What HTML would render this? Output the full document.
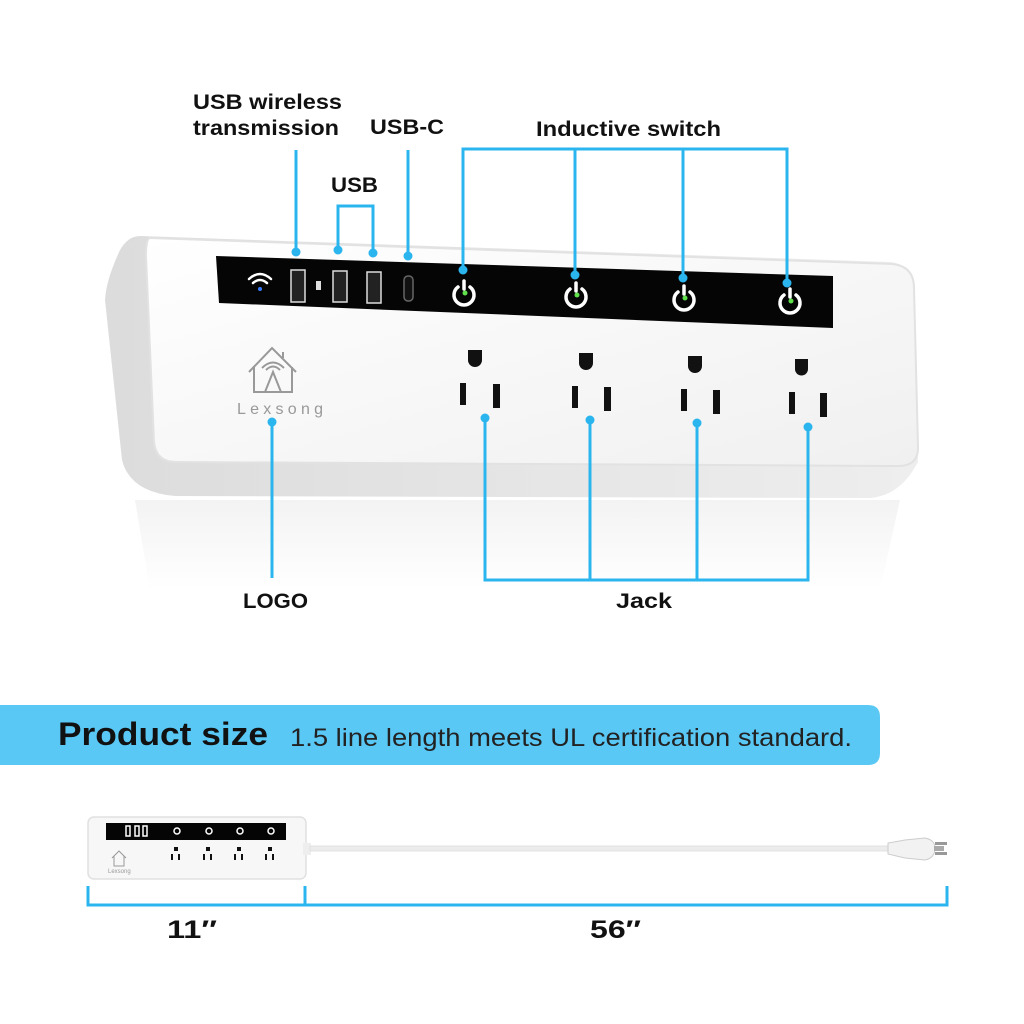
<!DOCTYPE html>
<html><head><meta charset="utf-8"><style>
html,body{margin:0;padding:0;background:#fff;}
svg{display:block}
text{font-family:"Liberation Sans",sans-serif;}
</style></head><body>
<svg width="1024" height="1024" viewBox="0 0 1024 1024" xmlns="http://www.w3.org/2000/svg">
<defs>
<linearGradient id="side" x1="0" y1="0" x2="1" y2="0"><stop offset="0" stop-color="#dcdcdc"/><stop offset="1" stop-color="#eeeeee"/></linearGradient>
<linearGradient id="front" x1="0" y1="0" x2="1" y2="1"><stop offset="0" stop-color="#ffffff"/><stop offset="1" stop-color="#f0f0f0"/></linearGradient>
<linearGradient id="refl" x1="0" y1="0" x2="0" y2="1"><stop offset="0" stop-color="#f3f3f3"/><stop offset="1" stop-color="#ffffff"/></linearGradient>
</defs>
<polygon points="135,500 900,500 880,590 150,590" fill="url(#refl)"/>
<path d="M140,236 L890,262 Q912,264 914,290 L918,462 Q900,496 870,498 L175,496 Q130,492 122,460 L105,300 Q106,280 120,250 Q128,236 140,236 Z" fill="url(#side)"/>
<path d="M150,238 L892,264 Q914,266 914,288 L918,448 Q918,466 898,466 L176,462 Q156,462 154,442 L146,256 Q146,238 150,238 Z" fill="url(#front)" stroke="#e2e2e2" stroke-width="2"/>
<polygon points="216,256 833,276 833,328 219,303" fill="#050505"/>
<g fill="none" stroke="#fff" stroke-width="2.5" stroke-linecap="round">
<path d="M249,279 Q260,269 271,279"/><path d="M253,283 Q260,277 267,283"/></g>
<circle cx="260" cy="289" r="2" fill="#3b7cff"/>
<rect x="291" y="270" width="14" height="32" fill="#222" stroke="#ddd" stroke-width="1.5"/>
<rect x="316" y="281" width="5" height="9" fill="#ddd"/>
<rect x="333" y="271" width="14" height="31" fill="#222" stroke="#ddd" stroke-width="1.5"/>
<rect x="367" y="272" width="14" height="31" fill="#222" stroke="#ddd" stroke-width="1.5"/>
<rect x="404" y="276" width="9" height="25" rx="4" fill="#111" stroke="#666" stroke-width="1.5"/>
<g fill="none" stroke="#fff" stroke-width="3.5" stroke-linecap="round">
<path d="M458,287 A10,10 0 1 0 470,287"/><line x1="464" y1="281" x2="464" y2="289"/>
<path d="M570,289 A10,10 0 1 0 582,289"/><line x1="576" y1="283" x2="576" y2="291"/>
<path d="M678,292 A10,10 0 1 0 690,292"/><line x1="684" y1="286" x2="684" y2="294"/>
<path d="M784,295 A10,10 0 1 0 796,295"/><line x1="790" y1="289" x2="790" y2="297"/>
</g>
<g fill="#5fe04a"><circle cx="465" cy="293" r="2.5"/><circle cx="577" cy="295" r="2.5"/><circle cx="685" cy="298" r="2.5"/><circle cx="791" cy="301" r="2.5"/></g>
<g fill="#111">
<path d="M468,350 h14 v10 a7,7 0 0 1 -14,0 z"/>
<rect x="460" y="383" width="6" height="22"/><rect x="493" y="384" width="7" height="24"/>
<path d="M579,353 h14 v10 a7,7 0 0 1 -14,0 z"/>
<rect x="572" y="386" width="6" height="22"/><rect x="604" y="387" width="7" height="24"/>
<path d="M688,356 h14 v10 a7,7 0 0 1 -14,0 z"/>
<rect x="681" y="389" width="6" height="22"/><rect x="713" y="390" width="7" height="24"/>
<path d="M795,359 h13 v10 a6.5,6.5 0 0 1 -13,0 z"/>
<rect x="789" y="392" width="6" height="22"/><rect x="820" y="393" width="7" height="24"/>
</g>
<g fill="none" stroke="#999" stroke-width="2">
<path d="M249,372 L272,348 L296,372 M254,367 V392 H292 V367 M283,352 V358"/>
<path d="M265,392 L273,372 L281,392"/>
<path d="M266,370 Q273,363 280,370 M262,368 Q273,357 284,368"/>
</g>
<text x="237" y="414" font-size="16" fill="#999" textLength="86">Lexsong</text>
<g stroke="#2bb5ee" stroke-width="3" fill="none">
<line x1="296" y1="150" x2="296" y2="250"/>
<polyline points="338,250 338,206 373,206 373,253"/>
<line x1="408" y1="150" x2="408" y2="255"/>
<polyline points="463,270 463,149 787,149 787,283"/>
<line x1="575" y1="149" x2="575" y2="275"/>
<line x1="683" y1="149" x2="683" y2="278"/>
<line x1="272" y1="422" x2="272" y2="578"/>
<polyline points="485,418 485,580 808,580 808,427"/>
<line x1="590" y1="420" x2="590" y2="580"/>
<line x1="697" y1="423" x2="697" y2="580"/>
</g>
<g fill="#2bb5ee">
<circle cx="296" cy="252" r="4.5"/><circle cx="338" cy="250" r="4.5"/><circle cx="373" cy="253" r="4.5"/><circle cx="408" cy="256" r="4.5"/>
<circle cx="463" cy="270" r="4.5"/><circle cx="575" cy="275" r="4.5"/><circle cx="683" cy="278" r="4.5"/><circle cx="787" cy="283" r="4.5"/>
<circle cx="272" cy="422" r="4.5"/><circle cx="485" cy="418" r="4.5"/><circle cx="590" cy="420" r="4.5"/><circle cx="697" cy="423" r="4.5"/><circle cx="808" cy="427" r="4.5"/>
</g>
<g font-weight="bold" font-size="21" fill="#111" lengthAdjust="spacingAndGlyphs">
<text x="193" y="109" textLength="149" lengthAdjust="spacingAndGlyphs">USB wireless</text>
<text x="193" y="135" textLength="146" lengthAdjust="spacingAndGlyphs">transmission</text>
<text x="370" y="134" textLength="74" lengthAdjust="spacingAndGlyphs">USB-C</text>
<text x="331" y="192" textLength="47" lengthAdjust="spacingAndGlyphs">USB</text>
<text x="536" y="136" textLength="185" lengthAdjust="spacingAndGlyphs">Inductive switch</text>
<text x="243" y="608" textLength="65" lengthAdjust="spacingAndGlyphs">LOGO</text>
<text x="616" y="608" textLength="56" lengthAdjust="spacingAndGlyphs">Jack</text>
</g>
<path d="M0,705 H868 Q880,705 880,717 V753 Q880,765 868,765 H0 Z" fill="#5ac8f5"/>
<text x="58" y="745" font-size="32" font-weight="bold" fill="#111" textLength="210" lengthAdjust="spacingAndGlyphs">Product size</text>
<text x="290" y="746" font-size="25" fill="#222" textLength="562" lengthAdjust="spacingAndGlyphs">1.5 line length meets UL certification standard.</text>
<rect x="88" y="817" width="218" height="62" rx="6" fill="#f7f7f7" stroke="#e0e0e0" stroke-width="1.5"/>
<rect x="106" y="823" width="180" height="17" fill="#050505"/>
<g fill="none" stroke="#fff" stroke-width="1.5"><circle cx="177" cy="831" r="3"/><circle cx="209" cy="831" r="3"/><circle cx="240" cy="831" r="3"/><circle cx="271" cy="831" r="3"/>
<rect x="126" y="826" width="4" height="10"/><rect x="135" y="826" width="4" height="10"/><rect x="143" y="826" width="4" height="10"/></g>
<g fill="#111">
<rect x="174" y="847" width="4" height="4"/><rect x="171" y="854" width="2" height="6"/><rect x="178" y="854" width="2" height="6"/>
<rect x="206" y="847" width="4" height="4"/><rect x="203" y="854" width="2" height="6"/><rect x="210" y="854" width="2" height="6"/>
<rect x="237" y="847" width="4" height="4"/><rect x="234" y="854" width="2" height="6"/><rect x="241" y="854" width="2" height="6"/>
<rect x="268" y="847" width="4" height="4"/><rect x="265" y="854" width="2" height="6"/><rect x="272" y="854" width="2" height="6"/>
</g>
<path d="M112,858 L119,851 L126,858 M114,856 V866 H124 V856" fill="none" stroke="#999" stroke-width="1"/>
<text x="108" y="873" font-size="6" fill="#999">Lexsong</text>
<rect x="303" y="843" width="8" height="12" fill="#eee"/>
<rect x="310" y="846" width="585" height="5" fill="#ececec" stroke="#ddd" stroke-width="0.8"/>
<path d="M888,843 L905,840 L925,838 Q935,840 935,848 Q935,858 925,860 L905,858 L888,854 Z" fill="#f2f2f2" stroke="#ccc" stroke-width="1"/>
<rect x="935" y="842" width="12" height="3" fill="#999"/><rect x="935" y="852" width="12" height="3" fill="#999"/><rect x="934" y="846" width="10" height="5" fill="#aaa"/>
<g stroke="#2bb5ee" stroke-width="3" fill="none">
<polyline points="88,886 88,905 947,905 947,886"/>
<line x1="305" y1="886" x2="305" y2="905"/>
</g>
<text x="167" y="938" font-size="25" font-weight="bold" fill="#111" textLength="50" lengthAdjust="spacingAndGlyphs">11″</text>
<text x="590" y="938" font-size="25" font-weight="bold" fill="#111" textLength="51" lengthAdjust="spacingAndGlyphs">56″</text>
</svg>
</body></html>
